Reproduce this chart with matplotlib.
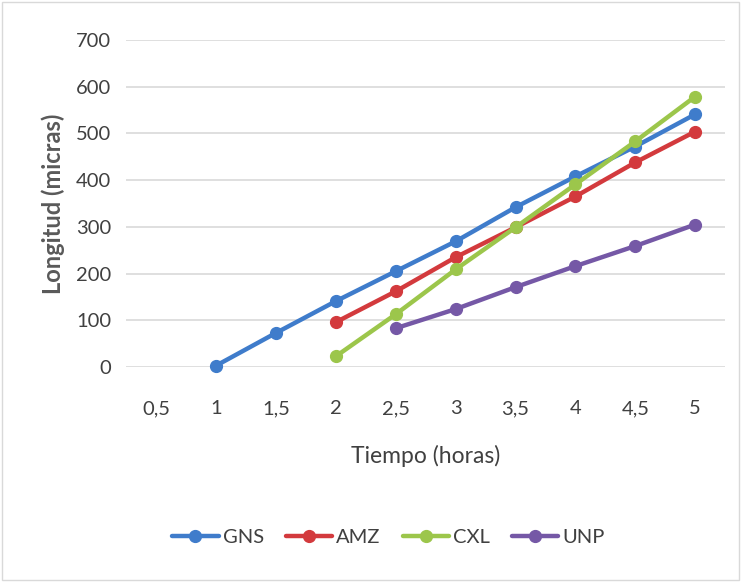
import matplotlib
matplotlib.use("Agg")
import matplotlib.pyplot as plt
from matplotlib.patches import Rectangle
import numpy as np

plt.rcParams['font.family'] = ['Lato', 'DejaVu Sans']

categories = ["0,5", "1", "1,5", "2", "2,5", "3", "3,5", "4", "4,5", "5"]
gns = [None, 3, 73, 141, 205, 269, 342, 408, 472, 541]
amz = [None, None, None, 96, 162, 235, 299, 365, 438, 504]
cxl = [None, None, None, 23, 113, 209, 299, 391, 483, 579]
unp = [None, None, None, None, 83, 124, 171, 216, 259, 305]

series = [("GNS", gns, "#3F7CCB"),
          ("AMZ", amz, "#D33A3D"),
          ("CXL", cxl, "#9CC64B"),
          ("UNP", unp, "#7558A6")]

text_color = "#404040"

fig = plt.figure(figsize=(7.43, 5.82), dpi=100)
fig.patches.append(Rectangle((0.003, 0.004), 0.992, 0.992, transform=fig.transFigure,
                             fill=False, edgecolor="#D9D9D9", linewidth=1))
ax = fig.add_axes([0.170, 0.3694, 0.806, 0.5619])

x = np.arange(len(categories))
for name, vals, color in series:
    xs = [i for i, v in enumerate(vals) if v is not None]
    ys = [v for v in vals if v is not None]
    ax.plot(xs, ys, color=color, linewidth=3.2, marker="o", markersize=8.5,
            markerfacecolor=color, markeredgecolor=color, label=name, clip_on=False,
            solid_capstyle="round")

ax.set_xlim(-0.5, len(categories) - 0.5)
ax.set_ylim(0, 700)
ax.set_yticks(np.arange(0, 701, 100))
ax.set_xticks(x)
ax.set_xticklabels(categories)
ax.grid(axis="y", color="#D9D9D9", linewidth=1.2)
ax.set_axisbelow(True)
for s in ax.spines.values():
    s.set_visible(False)
ax.tick_params(axis="both", length=0, labelsize=14.5, colors=text_color)
ax.tick_params(axis="y", pad=11)
ax.tick_params(axis="x", pad=24)

ax.set_xlabel("Tiempo (horas)", fontsize=16.5, color=text_color, labelpad=20)
ax.set_ylabel("Longitud (micras)", fontsize=17, color="#595959", fontweight="bold",
              labelpad=8)

leg = fig.legend(loc="center", bbox_to_anchor=(0.523, 0.076), ncol=4, frameon=False,
                 fontsize=14.5, handlelength=2.3, columnspacing=1.1, handletextpad=0.2,
                 labelcolor=text_color)

fig.savefig("out.png", dpi=100)
